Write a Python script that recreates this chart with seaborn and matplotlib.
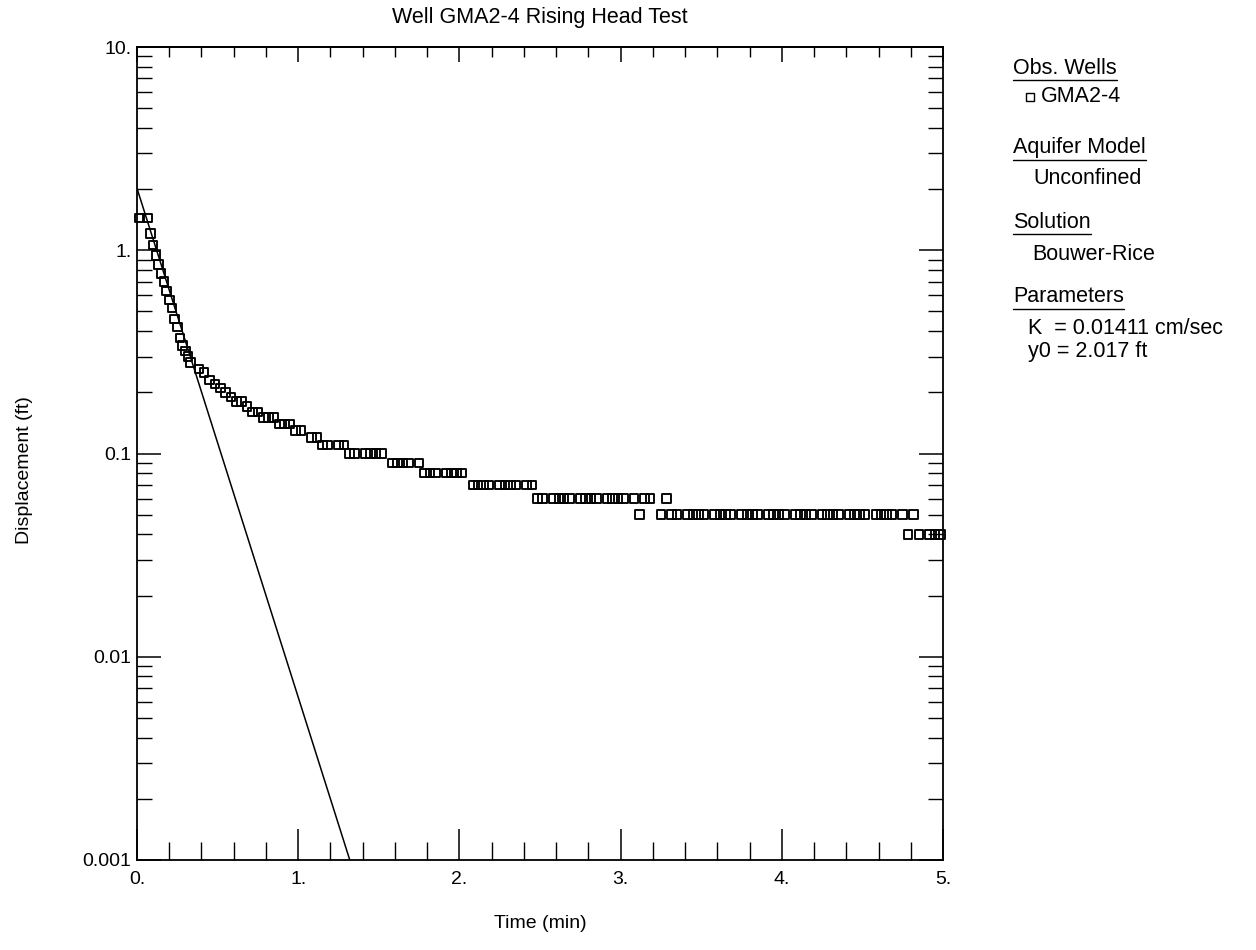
import numpy as np
import pandas as pd
import matplotlib
matplotlib.use("Agg")
import matplotlib.pyplot as plt
import seaborn as sns
from matplotlib.lines import Line2D
from matplotlib.ticker import FixedLocator, FixedFormatter, MultipleLocator, LogLocator, NullFormatter

# ---------------- data ----------------
time_s = [1, 4, 5, 6, 7, 8, 9, 10, 11, 12, 13, 14, 15, 16, 17, 18, 19, 20,
          23, 25, 27, 29, 31, 33, 35, 37, 39, 41, 43, 45, 47, 49, 51, 53, 55, 57, 59, 61,
          65, 67, 69, 71, 75, 77, 79, 81, 85, 87, 89, 91, 95, 97, 99, 101,
          105, 107, 109, 111, 115, 117, 119, 121, 125, 127, 129, 131,
          135, 137, 139, 141, 145, 147, 149, 151, 155, 157, 159, 161,
          165, 167, 169, 171, 175, 177, 179, 181, 185, 187, 189, 191,
          195, 197, 199, 201, 205, 207, 209, 211, 215, 217, 219, 221,
          225, 227, 229, 231, 235, 237, 239, 241, 245, 247, 249, 251,
          255, 257, 259, 261, 265, 267, 269, 271, 275, 277, 279, 281,
          285, 287, 289, 291, 295, 297, 299]
displacement_ft = [1.44, 1.44, 1.21, 1.06, 0.94, 0.85, 0.77, 0.70, 0.63, 0.57, 0.52, 0.46, 0.42, 0.37, 0.34, 0.32, 0.30, 0.28,
                   0.26, 0.25, 0.23, 0.22, 0.21, 0.20, 0.19, 0.18, 0.18, 0.17, 0.16, 0.16, 0.15, 0.15, 0.15, 0.14, 0.14, 0.14, 0.13, 0.13,
                   0.12, 0.12, 0.11, 0.11, 0.11, 0.11, 0.10, 0.10, 0.10, 0.10, 0.10, 0.10, 0.09, 0.09, 0.09, 0.09,
                   0.09, 0.08, 0.08, 0.08, 0.08, 0.08, 0.08, 0.08, 0.07, 0.07, 0.07, 0.07,
                   0.07, 0.07, 0.07, 0.07, 0.07, 0.07, 0.06, 0.06, 0.06, 0.06, 0.06, 0.06,
                   0.06, 0.06, 0.06, 0.06, 0.06, 0.06, 0.06, 0.06, 0.06, 0.05, 0.06, 0.06,
                   0.05, 0.06, 0.05, 0.05, 0.05, 0.05, 0.05, 0.05, 0.05, 0.05, 0.05, 0.05,
                   0.05, 0.05, 0.05, 0.05, 0.05, 0.05, 0.05, 0.05, 0.05, 0.05, 0.05, 0.05,
                   0.05, 0.05, 0.05, 0.05, 0.05, 0.05, 0.05, 0.05, 0.05, 0.05, 0.05, 0.05,
                   0.05, 0.04, 0.05, 0.04, 0.04, 0.04, 0.04]

fit_time_min = [0.0, 1.32]
fit_disp_ft = [2.017, 0.001]

x_ticks = [0, 1, 2, 3, 4, 5]
x_tick_labels = ["0.", "1.", "2.", "3.", "4.", "5."]
y_ticks = [0.001, 0.01, 0.1, 1, 10]
y_tick_labels = ["0.001", "0.01", "0.1", "1.", "10."]

title_text = "Well GMA2-4 Rising Head Test"
x_label = "Time (min)"
y_label = "Displacement (ft)"
legend_headers = ["Obs. Wells", "Aquifer Model", "Solution", "Parameters"]
legend_items = ["GMA2-4", "Unconfined", "Bouwer-Rice"]
param_lines = ["K  = 0.01411 cm/sec", "y0 = 2.017 ft"]

# ---------------- style ----------------
sns.set_theme(style="ticks")
plt.rcParams['font.family'] = ['Liberation Sans', 'DejaVu Sans']
plt.rcParams['axes.linewidth'] = 1.3
plt.rcParams['text.color'] = 'black'
plt.rcParams['axes.labelcolor'] = 'black'
plt.rcParams['xtick.color'] = 'black'
plt.rcParams['ytick.color'] = 'black'
plt.rcParams['axes.edgecolor'] = 'black'

W, H = 1256, 950
fig = plt.figure(figsize=(W / 100, H / 100), dpi=100)
fig.patch.set_facecolor("white")

def fx(px):
    return px / W

def fy(py):
    return 1 - py / H

L, R, T, B = 137, 943, 47, 860
ax = fig.add_axes([fx(L), fy(B), (R - L) / W, (B - T) / H])
ax.set_facecolor("white")

df = pd.DataFrame({"t": np.array(time_s) / 60.0, "d": displacement_ft})
sns.scatterplot(data=df, x="t", y="d", marker="s", s=38, facecolor="none",
                edgecolor="black", linewidth=1.35, ax=ax, legend=False, clip_on=False, zorder=3)
for c in ax.collections:
    c.set_facecolor("none")
    c.set_clip_on(False)

fit_df = pd.DataFrame({"t": fit_time_min, "d": fit_disp_ft})
sns.lineplot(data=fit_df, x="t", y="d", color="black", linewidth=1.1, ax=ax, legend=False)

ax.set_yscale("log")
ax.set_xlim(0, 5)
ax.set_ylim(0.001, 10)

ax.xaxis.set_major_locator(FixedLocator(x_ticks))
ax.xaxis.set_major_formatter(FixedFormatter(x_tick_labels))
ax.xaxis.set_minor_locator(MultipleLocator(0.2))
ax.yaxis.set_major_locator(FixedLocator(y_ticks))
ax.yaxis.set_major_formatter(FixedFormatter(y_tick_labels))
ax.yaxis.set_minor_locator(LogLocator(base=10, subs=np.arange(2, 10)))
ax.yaxis.set_minor_formatter(NullFormatter())

ax.tick_params(axis="x", which="major", direction="in", length=22, width=1.1,
               bottom=True, top=False, labelsize=14, pad=8, colors="black")
ax.tick_params(axis="x", which="minor", direction="in", length=13, width=1.0,
               bottom=True, top=False)
ax.tick_params(axis="y", which="major", direction="in", length=17, width=1.1,
               left=True, right=True, labelsize=14, pad=4, colors="black")
ax.tick_params(axis="y", which="minor", direction="in", length=11, width=1.0,
               left=True, right=True)

secx = ax.secondary_xaxis("top")
secx.xaxis.set_major_locator(FixedLocator(x_ticks))
secx.xaxis.set_minor_locator(MultipleLocator(0.2))
secx.tick_params(axis="x", which="major", direction="in", length=11, width=1.1, labeltop=False)
secx.tick_params(axis="x", which="minor", direction="in", length=7, width=1.0)
secx.spines["top"].set_linewidth(1.3)

for s in ax.spines.values():
    s.set_visible(True)
    s.set_color("black")

ax.set_xlabel(x_label, fontsize=14, color="black")
ax.set_ylabel(y_label, fontsize=14, color="black")
ax.xaxis.set_label_coords((540 - L) / (R - L), (B - 915) / (B - T))
ax.yaxis.set_label_coords((33 - L) / (R - L), (B - 470) / (B - T))

fig.text(fx(540), fy(18), title_text, ha="center", va="center", fontsize=15.5, color="black")

# ---------------- legend panel ----------------
fs_leg = 15.5
renderer = fig.canvas.get_renderer()

def header(px, py, text):
    t = fig.text(fx(px), fy(py), text, ha="left", va="center", fontsize=fs_leg, color="black")
    bb = t.get_window_extent(renderer)
    yline = py + 12
    fig.add_artist(Line2D([bb.x0 / W, bb.x1 / W], [fy(yline), fy(yline)],
                          transform=fig.transFigure, color="black", lw=1.0))

header(1013, 68, legend_headers[0])
fig.add_artist(Line2D([fx(1030)], [fy(97)], marker="s", ms=6, mfc="none", mec="black",
                      mew=1.0, transform=fig.transFigure))
fig.text(fx(1041), fy(97), legend_items[0], ha="left", va="center", fontsize=fs_leg, color="black")

header(1013, 148, legend_headers[1])
fig.text(fx(1033), fy(179), legend_items[1], ha="left", va="center", fontsize=fs_leg, color="black")

header(1013, 222, legend_headers[2])
fig.text(fx(1032), fy(254), legend_items[2], ha="left", va="center", fontsize=fs_leg, color="black")

header(1013, 297, legend_headers[3])
fig.text(fx(1028), fy(329), param_lines[0], ha="left", va="center", fontsize=fs_leg, color="black")
fig.text(fx(1028), fy(352), param_lines[1], ha="left", va="center", fontsize=fs_leg, color="black")

fig.savefig("out.png", dpi=100, facecolor="white")
